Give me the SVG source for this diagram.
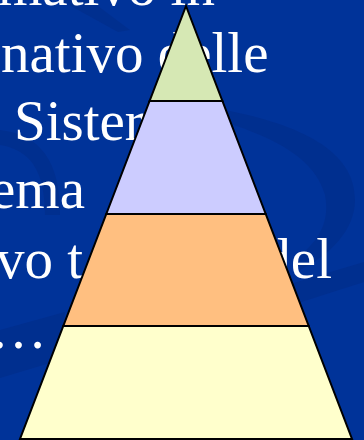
<svg xmlns="http://www.w3.org/2000/svg" width="364" height="440" viewBox="0 0 364 440">
<style>
.bg{fill:#003399}
.sw{fill:#002b86;opacity:0.55}
.t{font-family:"Liberation Serif","Times New Roman",serif;font-size:57px;fill:#ffffff}
.lay{stroke:#000000;stroke-width:2;stroke-linejoin:miter}
</style>
<rect class="bg" x="0" y="0" width="364" height="440"/>
<g id="background-swirls">
<path class="sw" d="M60 0 L90 0 L130 30 L118 32 Z"/>
<path class="sw" d="M0 130 C40 135 60 160 60 215 L45 215 C45 170 30 150 0 145 Z"/>
<path class="sw" d="M225 110 C300 125 355 150 355 200 C355 230 330 255 300 270 L300 255 C320 240 330 220 325 195 C315 160 280 140 225 122 Z"/>
<path class="sw" d="M270 290 L364 262 L364 282 L270 312 Z"/>
<path class="sw" d="M0 330 L65 312 L60 360 L0 378 Z"/>
</g>
<g id="text">
<text class="t" x="-2" y="5">mativo in</text>
<text class="t" x="1" y="72">nativo delle</text>
<text class="t" x="14" y="140">Sister</text>
<text class="t" x="-10" y="208">ema</text>
<text class="t" x="-4" y="278">vo t</text>
<text class="t" x="332" y="278" text-anchor="end">del</text>
<text class="t" x="-10" y="348">…</text>
</g>
<g id="pyramid">
<g id="layer-4"><polygon class="lay" fill="#FFFFCC" points="63.3,326 308.7,326 352,439 20,439"/></g>
<g id="layer-3"><polygon class="lay" fill="#FFBF80" points="106.3,214 265.7,214 308.7,326 63.3,326"/></g>
<g id="layer-2"><polygon class="lay" fill="#CCCCFF" points="149.6,101 222.4,101 265.7,214 106.3,214"/></g>
<g id="layer-1"><polygon class="lay" fill="#D6E8B4" points="186,6 222.4,101 149.6,101"/></g>
</g>
<g id="connectors"/>
</svg>
